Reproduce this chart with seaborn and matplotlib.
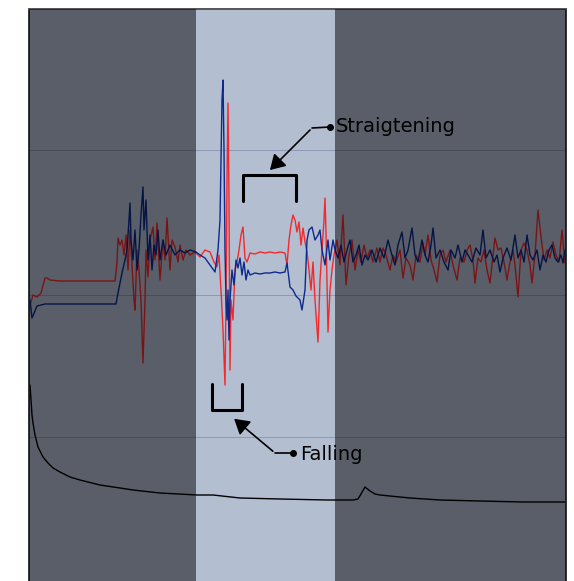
import numpy as np
import pandas as pd
import matplotlib.pyplot as plt
import seaborn as sns

# sample position (x) and signal level (y)
blue_x = [30, 32, 37, 45, 60, 80, 100, 116, 118, 122, 125, 127, 129, 130, 131, 133, 135, 137, 139, 141,
          143, 144, 146, 148, 150, 152, 154, 156, 158, 160, 163, 166, 170, 175, 180, 185, 190, 196, 200, 205,
          210, 215, 218, 220, 221, 222, 223, 224, 225, 226, 227, 228, 229, 230, 232, 234, 236, 238, 240, 242,
          244, 246, 248, 250, 255, 260, 265, 270, 275, 280, 285, 287, 290, 293, 296, 300, 302, 305, 307, 309,
          312, 315, 318, 320, 322, 325, 328, 330, 333, 335, 338, 341, 344, 347, 350, 353, 356, 359, 362, 365,
          368, 372, 376, 380, 384, 388, 391, 395, 398, 402, 405, 408, 412, 415, 418, 422, 425, 428, 431, 433,
          436, 440, 444, 448, 451, 455, 458, 462, 465, 468, 472, 476, 480, 483, 486, 490, 494, 497, 500, 503,
          507, 511, 515, 518, 521, 524, 527, 530, 533, 537, 540, 543, 546, 549, 552, 555, 558, 561, 563, 565]
blue_y = [281, 263, 275, 277, 277, 277, 277, 277, 288, 308, 321, 331, 361, 378, 341, 321, 351, 311, 331, 366,
          394, 351, 381, 321, 346, 311, 336, 326, 351, 321, 341, 326, 336, 326, 331, 328, 331, 329, 326, 323,
          316, 309, 331, 361, 421, 481, 501, 431, 331, 281, 261, 291, 241, 281, 311, 296, 321, 313, 323, 306,
          319, 301, 311, 306, 308, 307, 308, 308, 309, 308, 309, 318, 294, 291, 285, 281, 271, 291, 341, 351,
          354, 341, 346, 351, 331, 316, 341, 321, 341, 331, 323, 336, 319, 331, 341, 319, 326, 336, 316, 326,
          321, 331, 319, 333, 323, 341, 329, 316, 336, 349, 323, 331, 353, 326, 319, 341, 326, 319, 336, 353,
          323, 331, 319, 311, 331, 323, 336, 319, 331, 326, 319, 333, 326, 351, 323, 331, 319, 326, 309, 323,
          333, 321, 346, 323, 331, 319, 346, 326, 321, 331, 311, 326, 319, 331, 336, 323, 319, 326, 318, 331]

red_x = [30, 33, 37, 41, 45, 47, 50, 60, 80, 100, 115, 117, 118, 120, 122, 124, 126, 128, 130, 132,
         134, 135, 137, 139, 141, 143, 145, 146, 148, 150, 153, 155, 157, 160, 163, 165, 167, 170, 172, 175,
         178, 180, 183, 186, 190, 195, 200, 205, 210, 214, 217, 219, 221, 223, 225, 226, 227, 228, 229, 230,
         231, 233, 235, 237, 239, 241, 243, 245, 247, 250, 255, 260, 265, 270, 275, 280, 285, 287, 289, 291,
         293, 295, 297, 299, 301, 303, 305, 307, 309, 311, 313, 315, 318, 320, 322, 324, 325, 326, 328, 330,
         332, 334, 337, 340, 343, 346, 349, 352, 355, 358, 361, 364, 367, 370, 373, 377, 380, 383, 386, 390,
         393, 396, 400, 403, 406, 410, 413, 416, 420, 423, 425, 428, 431, 434, 437, 440, 443, 446, 450, 453,
         457, 460, 464, 467, 470, 473, 475, 478, 481, 484, 487, 490, 493, 495, 498, 501, 504, 507, 510, 513,
         515, 518, 521, 524, 527, 530, 532, 535, 538, 541, 544, 547, 550, 553, 556, 559, 562, 565]
red_y = [276, 286, 284, 288, 303, 303, 301, 300, 300, 300, 300, 318, 343, 336, 341, 326, 346, 311, 351, 316,
         281, 271, 331, 311, 281, 218, 281, 331, 304, 341, 354, 321, 358, 301, 341, 321, 363, 311, 341, 334,
         319, 336, 321, 331, 326, 329, 324, 331, 329, 319, 314, 326, 291, 251, 196, 281, 401, 478, 381, 211,
         281, 261, 311, 319, 331, 346, 354, 323, 319, 328, 327, 329, 328, 329, 328, 329, 328, 316, 341, 356,
         366, 361, 349, 359, 336, 353, 339, 329, 311, 291, 319, 281, 239, 301, 331, 361, 383, 349, 249, 291,
         311, 326, 341, 316, 366, 296, 326, 341, 311, 331, 319, 336, 323, 331, 319, 333, 319, 333, 326, 311,
         326, 319, 331, 303, 323, 316, 301, 326, 319, 338, 326, 346, 321, 311, 299, 326, 331, 319, 331, 316,
         301, 323, 319, 331, 336, 321, 298, 323, 319, 331, 311, 298, 326, 343, 331, 333, 319, 301, 319, 331,
         316, 284, 331, 338, 331, 316, 298, 326, 371, 344, 321, 331, 323, 339, 326, 319, 351, 318]

black_x = [30, 31, 32, 33, 35, 38, 43, 48, 53, 60, 70, 80, 100, 120, 133, 160, 197, 213, 240, 280,
           327, 353, 358, 361, 365, 370, 375, 380, 410, 440, 480, 523, 565]
black_y = [196, 181, 166, 158, 146, 134, 124, 118, 113, 109, 104, 101, 96, 93, 91, 88, 86, 86, 83, 82,
           81, 81, 82, 87, 94, 90, 87, 86, 83, 81, 80, 79, 79]

# highlighted window and annotation anchors
window = (196, 335)
grid_levels = [144, 286, 431]
straight_bracket = ([243, 243, 296, 296], [380, 406, 406, 380])
fall_bracket = ([212, 212, 242, 242], [197, 171, 171, 197])

sns.set_style("white")
plt.rcParams['font.family'] = ['DejaVu Sans']

fig = plt.figure(figsize=(5.74, 5.81), dpi=100)
ax = fig.add_axes([29 / 574, -3 / 581, 537 / 574, 575 / 581])
ax.set_facecolor('#b3bed1')

sns.lineplot(x=black_x, y=black_y, ax=ax, color='black', lw=1.0, zorder=2)
sns.lineplot(x=red_x, y=red_y, ax=ax, color='#ff1010', lw=1.0, alpha=0.85, zorder=2)
sns.lineplot(x=blue_x, y=blue_y, ax=ax, color='#0c2a8c', lw=1.0, zorder=2)

# darkened areas outside the window
ax.axvspan(29, window[0], color='black', alpha=0.5, lw=0, zorder=3)
ax.axvspan(window[1], 566, color='black', alpha=0.5, lw=0, zorder=3)

ax.set_xlim(29, 566)
ax.set_ylim(-3, 572)
ax.set_xticks([])
ax.set_yticks(grid_levels)
ax.set_yticklabels([])
ax.tick_params(length=0)
ax.yaxis.grid(True, color='#8f99b6', lw=0.7)
ax.set_axisbelow(True)
for s in ax.spines.values():
    s.set_color('#333333')
    s.set_linewidth(1.4)
ax.spines['top'].set_color('#555555')

# brackets
ax.plot(*straight_bracket, color='black', lw=2.2, zorder=5)
ax.plot(*fall_bracket, color='black', lw=2.2, zorder=5)

# Straigtening label
ax.plot([312, 330], [453, 454], color='black', lw=1.2, zorder=5)
ax.plot(330, 454, 'o', color='black', ms=4, zorder=5)
ax.annotate('', xy=(268, 409), xytext=(312, 453),
            arrowprops=dict(arrowstyle='-|>,head_length=0.5,head_width=0.3', color='black', lw=1.2,
                            mutation_scale=18), zorder=5)
ax.text(336, 454, 'Straigtening', fontsize=14, va='center', ha='left', color='black', zorder=6)

# Falling label
ax.plot([275, 293], [128, 128], color='black', lw=1.2, zorder=5)
ax.plot(293, 128, 'o', color='black', ms=4, zorder=5)
ax.annotate('', xy=(232, 164), xytext=(275, 128),
            arrowprops=dict(arrowstyle='-|>,head_length=0.5,head_width=0.3', color='black', lw=1.2,
                            mutation_scale=18), zorder=5)
ax.text(300, 126, 'Falling', fontsize=14, va='center', ha='left', color='black', zorder=6)

plt.savefig('out.png', dpi=100)
